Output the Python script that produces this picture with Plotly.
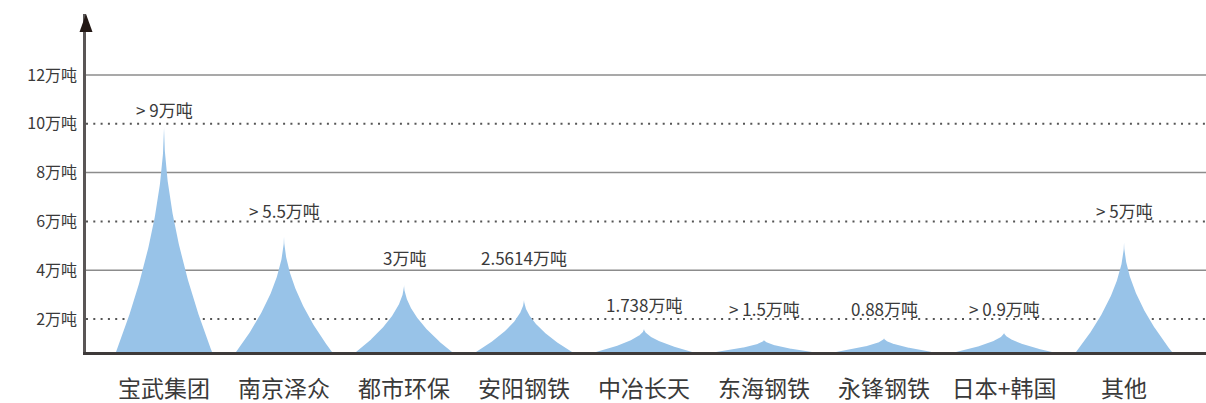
import numpy as np
import plotly.graph_objects as go

# ---------------- data ----------------
categories = ["宝武集团", "南京泽众", "都市环保", "安阳钢铁", "中冶长天",
              "东海钢铁", "永锋钢铁", "日本+韩国", "其他"]
values = [9.87, 5.37, 3.39, 2.78, 1.59, 1.14, 1.21, 1.44, 5.13]
value_labels = ["> 9万吨", "> 5.5万吨", "3万吨", "2.5614万吨", "1.738万吨",
                "> 1.5万吨", "0.88万吨", "> 0.9万吨", "> 5万吨"]
tick_values = [2, 4, 6, 8, 10, 12]
tick_labels = ["2万吨", "4万吨", "6万吨", "8万吨", "10万吨", "12万吨"]
solid_grid = [4, 8, 12]
dotted_grid = [2, 6, 10]

# ---------------- layout params ----------------
label_levels = [10.57, 6.43, 4.54, 4.54, 2.61, 2.45, 2.45, 2.45, 6.43]
Y_MIN, Y_MAX = 0.648, 14.5
X_MIN, X_MAX = -0.65, 8.683
HALF_W = 0.4
POWER = 1.8
BAR_COLOR = "#98c3e8"
TEXT_COLOR = "#3a3a3a"
FONT = "Noto Sans CJK SC"

fig = go.Figure()

h = np.linspace(0, 1, 120)
hw = HALF_W * (1 - h) ** POWER
for i, v in enumerate(values):
    yy = Y_MIN + h * (v - Y_MIN)
    xs = np.concatenate([i - hw, (i + hw)[::-1]])
    ys = np.concatenate([yy, yy[::-1]])
    fig.add_trace(go.Scatter(
        x=xs, y=ys, mode="lines", fill="toself",
        fillcolor=BAR_COLOR, line=dict(width=0, color=BAR_COLOR),
        hoverinfo="skip", showlegend=False))

# value labels
for i, (txt, lv) in enumerate(zip(value_labels, label_levels)):
    fig.add_annotation(x=i, y=lv, text=txt, showarrow=False,
                       xanchor="center", yanchor="middle",
                       font=dict(family=FONT, size=17, color=TEXT_COLOR))

# gridlines
for v in solid_grid:
    fig.add_shape(type="line", xref="paper", x0=0, x1=1, yref="y", y0=v, y1=v,
                  line=dict(color="#8c8c8c", width=1.5), layer="below")
for v in dotted_grid:
    fig.add_shape(type="line", xref="paper", x0=0, x1=1, yref="y", y0=v, y1=v,
                  line=dict(color="#555555", width=2, dash="2px,5.3px"), layer="below")

# arrow head on y axis
fig.add_shape(type="path", xref="paper", yref="paper",
              xsizemode="pixel", ysizemode="pixel", xanchor=0, yanchor=1,
              path="M-6.5,-18 L6.5,-18 L0,0 Z",
              fillcolor="#231815", line=dict(width=0), layer="above")

fig.update_layout(
    width=1206, height=403,
    margin=dict(l=86, r=0, t=14, b=51),
    paper_bgcolor="white", plot_bgcolor="white",
    font=dict(family=FONT, color=TEXT_COLOR),
    xaxis=dict(
        range=[X_MIN, X_MAX], tickmode="array",
        tickvals=list(range(len(categories))), ticktext=categories,
        tickfont=dict(family=FONT, size=23, color=TEXT_COLOR),
        showgrid=False, zeroline=False, ticks="",
        showline=True, linecolor="#3e3a39", linewidth=3,
        ticklabelstandoff=14, fixedrange=True),
    yaxis=dict(
        range=[Y_MIN, Y_MAX], tickmode="array",
        tickvals=tick_values, ticktext=tick_labels,
        tickfont=dict(family=FONT, size=16, color=TEXT_COLOR),
        showgrid=False, zeroline=False, ticks="",
        showline=True, linecolor="#5a5656", linewidth=2.5,
        ticklabelstandoff=3, fixedrange=True),
)

fig.write_html("out.html", config={"displayModeBar": False},
               post_script="document.body.style.margin='0';document.body.style.overflow='hidden';")
